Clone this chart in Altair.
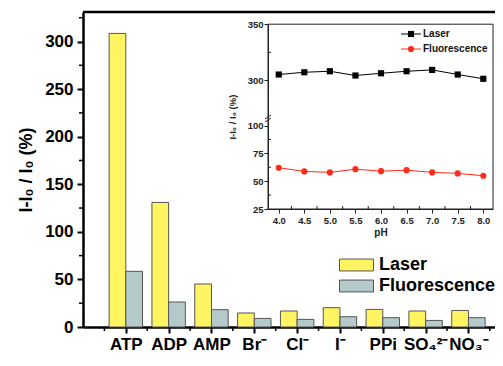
import json
import altair as alt
import pandas as pd

# ---------------- data ----------------
categories = ["ATP", "ADP", "AMP", "Br⁻", "Cl⁻", "I⁻", "PPi", "SO₄²⁻", "NO₃⁻"]
laser = [308.5, 130.9, 45.2, 14.7, 16.8, 20.3, 18.5, 16.8, 17.4]
fluorescence = [58.5, 26.3, 18.2, 9.0, 8.0, 10.8, 9.8, 6.9, 9.8]
series_names = ["Laser", "Fluorescence"]

ph = [4.0, 4.5, 5.0, 5.5, 6.0, 6.5, 7.0, 7.5, 8.0]
ph_laser = [305.3, 307.3, 308.2, 304.4, 306.4, 308.2, 309.4, 305.3, 301.5]
ph_fluor = [62.1, 58.8, 57.9, 60.8, 59.0, 59.9, 57.9, 57.0, 54.9]

main_y_ticks = [0, 50, 100, 150, 200, 250, 300]
main_y_minor = [25, 75, 125, 175, 225, 275, 325]
main_x_minor = [0.5 + i for i in range(10)]
inset_y_ticks = [25, 50, 75, 100, 300, 350]
inset_y_minor = [37.5, 62.5, 87.5, 325]
inset_x_minor = [4.25, 4.75, 5.25, 5.75, 6.25, 6.75, 7.25, 7.75]

FONT = "Liberation Sans"
W, H = 412, 315
TOP = 4
YELLOW = "#FFF562"
GRAY = "#B4C9C9"

bar_rows = []
for i, c in enumerate(categories):
    bar_rows.append({"idx": i, "cat": c, "series": "Laser", "value": laser[i]})
    bar_rows.append({"idx": i, "cat": c, "series": "Fluorescence", "value": fluorescence[i]})
bar_df = pd.DataFrame(bar_rows)

label_expr = json.dumps(categories, ensure_ascii=False) + "[datum.value - 1]"

x_main = alt.Scale(domain=[0, 9.62], nice=False, zero=False)
y_main = alt.Scale(domain=[0, 331], nice=False, zero=False)

bars = alt.Chart(bar_df).transform_calculate(
    x0="datum.idx + 1 + (datum.series == 'Laser' ? -0.39 : 0)",
    x1="datum.idx + 1 + (datum.series == 'Laser' ? 0 : 0.39)",
).mark_rect(stroke="#555555", strokeWidth=1).encode(
    x=alt.X("x0:Q", scale=x_main, axis=alt.Axis(
        values=list(range(1, 10)), labelExpr=label_expr, title=None, grid=False,
        orient="bottom", tickSize=6, tickWidth=2, tickColor="black",
        domainWidth=2.5, domainColor="black", labelFontSize=17,
        labelFontWeight="bold", labelFont=FONT, labelPadding=3,
        labelColor="black", labelFlush=False, labelOverlap=False)),
    x2="x1:Q",
    y=alt.Y("value:Q", scale=y_main, axis=alt.Axis(
        values=main_y_ticks, title="I-I₀ / I₀ (%)", grid=False, orient="left",
        tickSize=6, tickWidth=2, tickColor="black", domainWidth=2.5,
        domainColor="black", labelFontSize=17, labelFontWeight="bold",
        labelFont=FONT, labelPadding=4, labelColor="black",
        titleFontSize=18, titleFontWeight="bold", titleFont=FONT,
        titleColor="black", titlePadding=9)),
    y2=alt.datum(0),
    fill=alt.Fill("series:N", scale=alt.Scale(domain=series_names, range=[YELLOW, GRAY]),
                  legend=alt.Legend(orient="none", legendX=256, legendY=244, title=None,
                                    symbolType="M-1,-0.35H1V0.35H-1Z", symbolSize=1156,
                                    symbolStrokeColor="#555555", symbolStrokeWidth=1,
                                    labelFontSize=18, labelFontWeight="bold", labelFont=FONT,
                                    labelColor="black", rowPadding=3, clipHeight=18,
                                    labelOffset=5, padding=0)),
)

minor_x = alt.Chart(pd.DataFrame({"m": main_x_minor})).mark_rule(
    color="black", strokeWidth=1.5).encode(
    x=alt.X("m:Q", scale=x_main), y=alt.value(H), y2=alt.value(H + 4))
minor_y = alt.Chart(pd.DataFrame({"m": main_y_minor})).mark_rule(
    color="black", strokeWidth=1.5).encode(
    y=alt.Y("m:Q", scale=y_main), x=alt.value(0), x2=alt.value(-4))
top_line = alt.Chart(pd.DataFrame({"a": [0]})).mark_rule(
    color="black", strokeWidth=2.5).encode(
    x=alt.value(0), x2=alt.value(W), y=alt.value(0))

main = alt.layer(bars, minor_x, minor_y, top_line)

# ---------------- inset ----------------
inset_rows = []
for i, p in enumerate(ph):
    inset_rows.append({"ph": p, "signal": "Laser", "value": ph_laser[i]})
    inset_rows.append({"ph": p, "signal": "Fluorescence", "value": ph_fluor[i]})
inset_df = pd.DataFrame(inset_rows)

IX0, IX1 = 185, 410
IYB, IYT = 197.0, 12.2
ix = alt.Scale(domain=[3.79, 8.19], range=[IX0, IX1], nice=False, zero=False)
iy = alt.Scale(domain=[25, 103, 268, 350], range=[IYB, 110.2, 104.5, IYT],
               nice=False, zero=False)
col_scale = alt.Scale(domain=series_names, range=["black", "#FF2A1A"])

x_in = alt.X("ph:Q", scale=ix, axis=alt.Axis(
    values=ph, format=".1f", orient="bottom", offset=IYB - H, title="pH",
    grid=False, tickSize=4, tickColor="#222", domainColor="#222", domainWidth=1,
    labelFontSize=9.5, labelFontWeight="bold", labelFont=FONT, labelColor="#222",
    labelPadding=2, titleFontSize=10, titleFontWeight="bold", titleFont=FONT,
    titleColor="#222", titlePadding=3))
y_in = alt.Y("value:Q", scale=iy, axis=alt.Axis(
    values=inset_y_ticks, format="d", orient="left", offset=-IX0,
    title="I-I₀ / I₀ (%)", grid=False, tickSize=4, tickColor="#222",
    domainColor="#222", domainWidth=1, labelFontSize=9.5, labelFontWeight="bold",
    labelFont=FONT, labelColor="#222", labelPadding=1, titleFontSize=9.5,
    titleFontWeight="bold", titleFont=FONT, titleColor="#222", titlePadding=10))

lines = alt.Chart(inset_df).mark_line(strokeWidth=1).encode(
    x=x_in, y=y_in, color=alt.Color("signal:N", scale=col_scale, legend=None))
points = alt.Chart(inset_df).mark_point(filled=True, size=38, opacity=1).encode(
    x="ph:Q", y="value:Q",
    color=alt.Color("signal:N", scale=col_scale, legend=None),
    shape=alt.Shape("signal:N", scale=alt.Scale(domain=series_names, range=["square", "circle"]),
                    legend=None))
frame = alt.Chart(pd.DataFrame({"a": [0]})).mark_rect(
    filled=False, stroke="#222", strokeWidth=1).encode(
    x=alt.datum(3.79), x2=alt.datum(8.19), y=alt.datum(25), y2=alt.datum(350))
iminor_y = alt.Chart(pd.DataFrame({"m": inset_y_minor})).mark_rule(
    color="#222", strokeWidth=1).encode(
    y=alt.Y("m:Q"), x=alt.value(IX0), x2=alt.value(IX0 + 3))
iminor_x = alt.Chart(pd.DataFrame({"m": inset_x_minor})).mark_rule(
    color="#222", strokeWidth=1).encode(
    x=alt.X("m:Q"), y=alt.value(IYB), y2=alt.value(IYB - 3))

inset = alt.layer(frame, lines, points, iminor_y, iminor_x)

# inset legend + axis break (decorations in pixel space)
deco = []
colors = ["black", "#FF2A1A"]
shapes = ["square", "circle"]
for k, name in enumerate(series_names):
    yy = 22 + 15 * k
    d = pd.DataFrame({"name": [name]})
    deco.append(alt.Chart(d).mark_rule(color=colors[k], strokeWidth=1).encode(
        x=alt.value(318), x2=alt.value(338), y=alt.value(yy)))
    deco.append(alt.Chart(d).mark_point(filled=True, size=38, opacity=1,
                                        shape=shapes[k], color=colors[k]).encode(
        x=alt.value(328), y=alt.value(yy)))
    deco.append(alt.Chart(d).mark_text(align="left", baseline="middle", fontSize=10,
                                       fontWeight="bold", font=FONT, color="#111").encode(
        x=alt.value(340), y=alt.value(yy), text="name:N"))
brk = pd.DataFrame({"a": [0]})
deco.append(alt.Chart(brk).mark_rule(color="#222", strokeWidth=1).encode(
    x=alt.value(IX0 - 3), x2=alt.value(IX0 + 3), y=alt.value(107), y2=alt.value(103)))
deco.append(alt.Chart(brk).mark_rule(color="#222", strokeWidth=1).encode(
    x=alt.value(IX0 - 3), x2=alt.value(IX0 + 3), y=alt.value(110), y2=alt.value(106)))

chart = alt.layer(main, inset, *deco).resolve_scale(
    x="independent", y="independent", color="independent", shape="independent"
).properties(
    width=W, height=H,
    autosize=alt.AutoSizeParams(type="none"),
    padding={"left": 75, "top": TOP, "right": 0, "bottom": 350 - TOP - H},
).configure_view(stroke=None).configure(font=FONT)

chart.save("out.html", embed_options={"renderer": "svg", "actions": False})
